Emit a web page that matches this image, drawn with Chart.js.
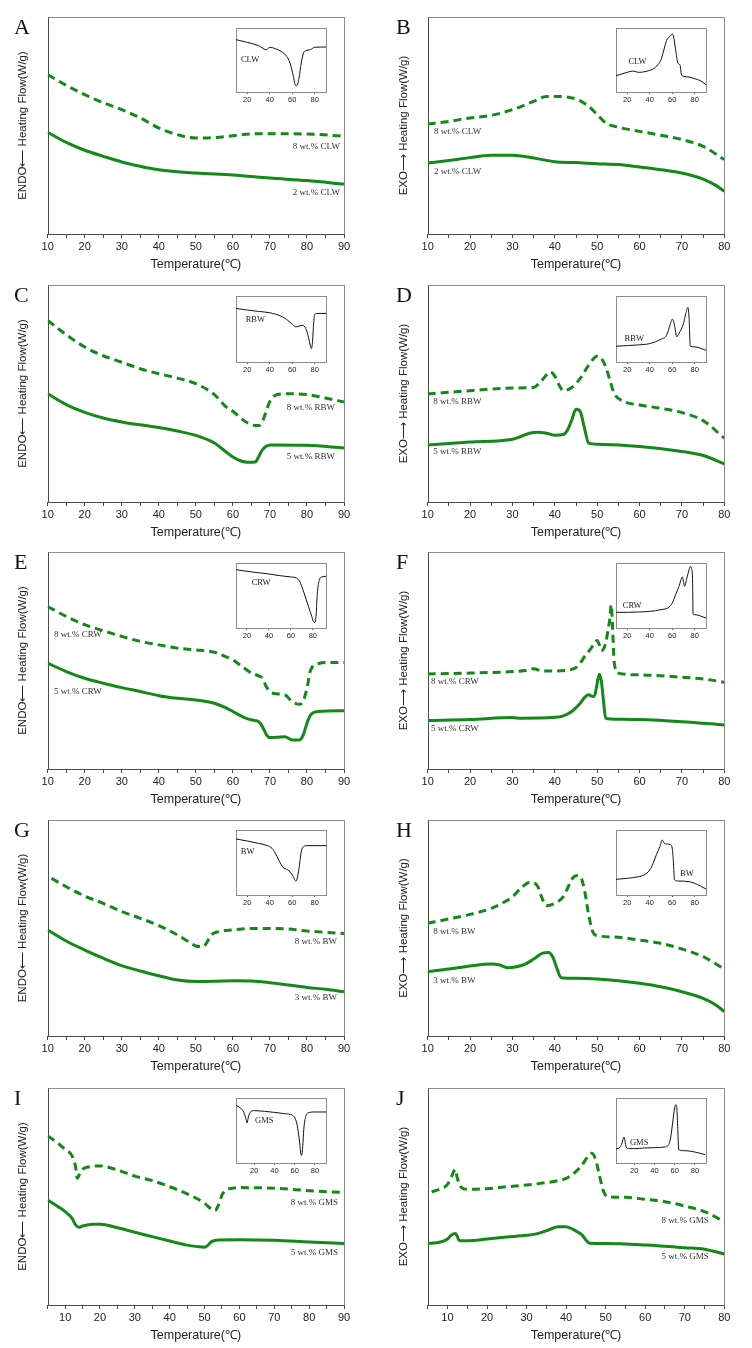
<!DOCTYPE html>
<html>
<head>
<meta charset="utf-8">
<script src="https://cdn.jsdelivr.net/npm/chart.js@4.4.0/dist/chart.umd.min.js"></script>
<style>
  body { margin: 0; background: #fff; }
  #fig { position: relative; width: 752px; height: 1348px; overflow: hidden; }
  #fig canvas { position: absolute; }
</style>
</head>
<body>
<div id="fig"></div>
<script>
// ---- x ticks ----
const TICKS_10_90 = [10, 15, 20, 25, 30, 35, 40, 45, 50, 55, 60, 65, 70, 75, 80, 85, 90];
const TICKS_10_80 = [10, 15, 20, 25, 30, 35, 40, 45, 50, 55, 60, 65, 70, 75, 80];
const TICKS_5_90 = [5, 10, 15, 20, 25, 30, 35, 40, 45, 50, 55, 60, 65, 70, 75, 80, 85, 90];
const TICKS_5_80 = [5, 10, 15, 20, 25, 30, 35, 40, 45, 50, 55, 60, 65, 70, 75, 80];
const INSET_TICKS = [20, 40, 60, 80];

// ---- A: CLW heating (endo) ----
const A_T8 = [10, 15, 20, 25, 30, 35, 40, 45, 50, 55, 60, 65, 70, 80, 90];
const A_H8 = [73.4, 68.5, 64.2, 60.5, 57.3, 53.5, 48.8, 45.8, 44.2, 44.4, 45.3, 46.1, 46.2, 46.1, 45.0];
const A_T2 = [10, 15, 20, 25, 30, 35, 40, 50, 60, 70, 80, 90];
const A_H2 = [46.9, 42.2, 38.6, 35.8, 33.2, 31.2, 29.6, 28.1, 27.2, 25.8, 24.6, 23.0];
const A_TI = [10, 20, 30, 37, 40, 45, 50, 55, 58, 61, 63, 64, 66, 68, 70, 72, 76, 80, 90];
const A_HI = [81.8, 77.6, 72.4, 66.1, 69.8, 67.7, 63.5, 55.7, 45.3, 24.5, 9.9, 9.9, 21.9, 45.3, 60.9, 64.6, 66.1, 69.8, 70.3];

// ---- B: CLW cooling (exo) ----
const B_T8 = [10, 15, 20, 25, 30, 35, 38, 40, 45, 48, 50, 52, 55, 60, 65, 70, 75, 80];
const B_H8 = [50.7, 51.9, 53.5, 54.7, 57.3, 61.1, 63.4, 63.4, 62.2, 58.8, 55.0, 51.2, 49.2, 47.3, 45.5, 43.5, 40.4, 34.3];
const B_T2 = [10, 15, 20, 25, 30, 35, 40, 45, 50, 55, 60, 65, 70, 75, 78, 80];
const B_H2 = [32.7, 33.9, 35.2, 36.3, 36.3, 35.0, 33.3, 32.9, 32.4, 32.0, 30.9, 29.6, 28.1, 25.3, 22.4, 19.7];
const B_TI = [10, 20, 25, 30, 40, 45, 50, 53, 55, 58, 60, 61, 63, 65, 67, 68, 70, 75, 80, 85, 90];
const B_HI = [25.5, 30.7, 32.8, 30.7, 33.9, 38.5, 50.5, 68.8, 80.7, 87.0, 90.6, 88.0, 66.1, 45.3, 41.7, 28.6, 24.5, 23.4, 20.8, 17.7, 11.5];

// ---- C: RBW heating ----
const C_T8 = [10, 15, 20, 25, 30, 35, 40, 45, 50, 55, 58, 60, 63, 65, 67, 68, 69, 70, 72, 75, 80, 85, 90];
const C_H8 = [83.7, 77.1, 71.4, 67.4, 64.4, 61.4, 59.1, 57.1, 54.5, 49.5, 44.1, 41.8, 37.5, 35.6, 35.2, 37.2, 41.8, 46.4, 49.5, 49.9, 49.5, 47.9, 46.1];
const C_T5 = [10, 15, 20, 25, 30, 40, 45, 50, 55, 58, 60, 62, 64, 66, 67, 68, 69, 70, 80, 90];
const C_H5 = [49.9, 44.9, 41.3, 38.7, 36.9, 34.3, 32.7, 30.7, 27.2, 23.3, 20.7, 19.0, 18.3, 18.4, 21.0, 24.1, 25.7, 26.3, 26.1, 24.9];
const C_TI = [10, 20, 30, 40, 50, 55, 60, 63, 66, 69, 72, 74, 76, 77, 78, 79, 80, 82, 90];
const C_HI = [81.2, 78.7, 76.6, 74.6, 69.5, 64.5, 57.4, 53.3, 54.3, 55.8, 50.8, 40.6, 25.4, 20.3, 30.5, 58.4, 72.1, 73.6, 73.6];

// ---- D: RBW cooling ----
const D_T8 = [10, 20, 30, 35, 37, 39, 40, 41, 42, 44, 46, 48, 50, 51, 52, 53, 54, 56, 60, 65, 70, 75, 80];
const D_H8 = [49.8, 51.3, 52.5, 52.8, 56.2, 59.9, 58.0, 53.9, 51.3, 52.8, 57.0, 63.1, 67.2, 66.2, 62.3, 56.2, 50.1, 46.6, 44.7, 43.2, 41.2, 37.5, 29.4];
const D_T5 = [10, 20, 30, 32, 34, 36, 38, 40, 42, 43, 44, 45, 46, 47, 48, 50, 60, 70, 75, 80];
const D_H5 = [26.3, 27.6, 28.9, 30.2, 31.7, 32.2, 31.7, 30.8, 31.1, 33.2, 37.8, 42.7, 41.7, 34.0, 27.1, 26.6, 25.6, 23.3, 21.4, 17.6];
const D_TI = [10, 20, 30, 40, 50, 55, 58, 60, 62, 64, 66, 70, 72, 74, 75, 76, 80, 90];
const D_HI = [23.9, 24.9, 25.9, 27.9, 34.5, 40.6, 55.8, 65.0, 55.8, 38.1, 43.1, 58.4, 73.6, 82.7, 64.5, 23.9, 22.8, 17.8];

// ---- E: CRW heating ----
const E_T8 = [10, 15, 20, 25, 30, 35, 40, 45, 50, 55, 58, 60, 63, 65, 67, 68, 69, 70, 72, 74, 76, 78, 79, 80, 81, 83, 85, 90];
const E_H8 = [74.9, 70.3, 66.5, 63.7, 61.1, 58.8, 57.2, 55.7, 54.9, 53.8, 51.8, 50.3, 46.5, 44.2, 42.9, 41.8, 38.0, 35.7, 34.6, 34.2, 31.1, 29.8, 31.4, 37.2, 45.7, 48.5, 49.1, 49.1];
const E_T5 = [10, 15, 20, 25, 30, 35, 40, 45, 50, 55, 58, 60, 62, 64, 66, 67, 68, 69, 70, 72, 74, 76, 78, 79, 80, 81, 83, 90];
const E_H5 = [48.8, 44.9, 41.8, 39.5, 37.5, 35.7, 33.8, 32.6, 31.8, 30.3, 28.3, 26.5, 24.6, 23.1, 22.3, 21.8, 19.5, 16.0, 14.5, 14.6, 14.9, 13.4, 13.4, 15.7, 21.1, 24.9, 26.5, 26.8];
const E_TI = [10, 20, 30, 40, 50, 60, 65, 68, 72, 76, 79, 81, 82, 83, 84, 86, 88, 92];
const E_HI = [89.7, 87.2, 85.1, 83.1, 80.5, 78.5, 76.9, 71.8, 53.8, 33.3, 17.9, 8.7, 8.7, 20.5, 51.3, 74.4, 78.5, 79.5];

// ---- F: CRW cooling ----
const F_T8 = [10, 20, 30, 33, 35, 37, 40, 43, 45, 46, 47, 48, 49, 50, 50.5, 51, 52, 52.5, 53, 53.3, 53.6, 54, 55, 60, 70, 75, 80];
const F_H8 = [43.8, 44.2, 44.9, 45.4, 46.2, 45.2, 45.2, 45.5, 46.8, 48.8, 51.8, 54.2, 56.9, 59.2, 57.2, 54.5, 58.0, 63.4, 69.5, 75.7, 66.5, 49.5, 44.2, 43.4, 42.3, 41.5, 40.0];
const F_T5 = [10, 20, 30, 32, 40, 42, 44, 46, 47, 48, 49, 49.5, 50, 50.5, 51, 51.5, 52, 55, 60, 70, 80];
const F_H5 = [22.3, 22.8, 23.7, 23.4, 23.8, 24.5, 26.5, 30.3, 32.9, 34.2, 33.4, 34.5, 39.5, 43.7, 40.3, 31.1, 23.4, 22.9, 22.8, 21.8, 20.3];
const F_TI = [10, 20, 30, 40, 50, 57, 60, 63, 66, 69, 70, 71, 73, 75, 76, 77, 78, 78.5, 80, 90];
const F_HI = [24.1, 24.1, 24.6, 25.6, 28.2, 31.8, 38.5, 51.3, 64.1, 78.5, 71.8, 64.1, 76.9, 89.7, 94.9, 92.3, 76.9, 21.5, 20.5, 15.4];

// ---- G: BW heating ----
const G_T8 = [11, 15, 20, 25, 30, 35, 40, 45, 48, 50, 52, 53, 54, 56, 60, 65, 70, 75, 80, 85, 90];
const G_H8 = [73.0, 69.1, 64.8, 61.4, 57.6, 54.5, 51.1, 46.8, 43.7, 41.7, 41.4, 43.4, 46.5, 48.3, 49.1, 49.8, 49.8, 49.5, 48.6, 48.0, 47.5];
const G_T3 = [10, 15, 20, 25, 30, 35, 40, 45, 50, 55, 60, 65, 70, 75, 80, 85, 90];
const G_H3 = [49.1, 44.0, 39.8, 36.0, 32.6, 30.1, 27.9, 25.9, 25.2, 25.3, 25.6, 25.5, 24.7, 23.6, 22.5, 21.6, 20.5];
const G_TI = [10, 20, 30, 38, 42, 45, 48, 52, 55, 58, 61, 63, 64, 66, 68, 70, 73, 90];
const G_HI = [86.2, 83.1, 79.5, 75.9, 71.8, 64.1, 53.8, 42.1, 39.5, 35.9, 28.2, 21.5, 23.1, 41.0, 66.7, 74.4, 75.9, 75.9];

// ---- H: BW cooling ----
const H_T8 = [10, 15, 20, 25, 28, 30, 32, 34, 35, 36, 37, 38, 40, 42, 43, 44, 45, 46, 47, 48, 49, 50, 55, 60, 65, 70, 75, 80];
const H_H8 = [52.2, 54.2, 56.3, 59.1, 61.9, 64.5, 68.4, 71.1, 71.0, 69.1, 63.7, 60.3, 61.4, 64.5, 68.4, 72.5, 74.2, 73.8, 67.6, 56.0, 48.0, 46.5, 45.7, 44.4, 42.9, 40.3, 36.7, 31.0];
const H_T3 = [10, 15, 20, 25, 27, 29, 31, 33, 35, 37, 38.5, 39.5, 40.5, 41.5, 45, 50, 55, 60, 65, 70, 75, 78, 80];
const H_H3 = [29.8, 31.0, 32.4, 33.3, 32.9, 31.6, 32.1, 33.3, 35.6, 38.3, 38.7, 36.7, 31.3, 27.0, 26.7, 26.4, 25.6, 24.4, 22.8, 20.5, 17.4, 14.4, 11.3];
const H_TI = [10, 20, 30, 35, 40, 43, 46, 49, 51, 53, 55, 58, 60, 61, 62, 65, 75, 80, 85, 90];
const H_HI = [24.1, 25.6, 28.2, 30.8, 38.5, 48.7, 62.6, 74.4, 84.6, 79.5, 78.5, 77.9, 71.8, 51.3, 23.1, 21.5, 20.5, 17.9, 13.8, 9.2];

// ---- I: GMS heating ----
const I_T8 = [5, 8, 10, 12, 13, 13.5, 14, 15, 17, 20, 25, 30, 35, 40, 45, 50, 52, 53, 54, 55, 56, 58, 60, 70, 80, 90];
const I_H8 = [77.9, 74.5, 71.7, 68.7, 63.7, 58.4, 59.9, 62.5, 63.7, 64.1, 62.2, 59.4, 57.3, 54.5, 51.2, 46.9, 44.1, 43.5, 46.1, 50.7, 53.0, 53.8, 54.1, 53.8, 52.7, 51.8];
const I_T5 = [5, 8, 10, 12, 13, 14, 15, 18, 20, 25, 30, 35, 40, 45, 48, 50, 51, 52, 54, 60, 70, 80, 90];
const I_H5 = [48.4, 45.3, 43.0, 39.9, 36.9, 35.8, 36.4, 37.2, 37.2, 35.6, 33.5, 31.5, 29.5, 27.6, 26.9, 26.6, 27.6, 29.2, 30.0, 30.1, 29.8, 29.0, 28.3];
const I_TI = [2, 5, 8, 10, 12, 13, 14, 16, 20, 30, 40, 50, 58, 61, 63, 65, 66, 67, 68, 69, 71, 73, 80, 91];
const I_HI = [88.7, 86.2, 82.1, 76.9, 66.7, 61.5, 69.2, 77.9, 80.5, 79.5, 77.9, 75.9, 73.3, 66.7, 53.8, 30.8, 15.4, 11.8, 25.6, 51.3, 71.8, 76.9, 78.5, 78.5];

// ---- J: GMS cooling ----
const J_T8 = [6, 8, 10, 11, 12, 12.5, 13.5, 15, 20, 25, 30, 35, 38, 40, 42, 44, 45.5, 46.5, 47.5, 48.5, 49.5, 50.5, 55, 60, 65, 70, 75, 80];
const J_H8 = [52.2, 53.3, 55.6, 59.1, 62.5, 58.4, 54.2, 53.3, 53.6, 54.5, 55.3, 56.4, 57.3, 58.4, 60.7, 64.5, 68.4, 69.9, 66.8, 59.1, 52.2, 49.9, 49.6, 48.7, 47.6, 45.6, 43.0, 38.4];
const J_T5 = [5, 8, 10, 11, 12, 12.5, 13, 15, 20, 25, 30, 33, 36, 38, 40, 42, 44, 45, 46, 50, 60, 70, 75, 80];
const J_H5 = [28.4, 28.9, 30.4, 32.3, 33.0, 31.5, 29.6, 29.6, 30.4, 31.3, 32.1, 33.0, 34.9, 36.1, 36.1, 34.6, 32.3, 30.0, 28.4, 28.3, 27.6, 26.4, 25.7, 23.5];
const J_TI = [2, 6, 8, 9, 10, 11, 12, 15, 20, 30, 40, 50, 54, 56, 58, 60, 61, 62, 63, 64, 70, 80, 90];
const J_HI = [21.5, 24.6, 30.8, 36.9, 40.0, 33.3, 24.6, 22.1, 22.1, 23.1, 23.6, 24.6, 28.2, 38.5, 61.5, 84.6, 89.7, 87.2, 56.4, 20.5, 19.0, 16.9, 12.8];

const ENDO_TITLE = "ENDO\u27F5 Heating Flow(W/g)";
const EXO_TITLE = "EXO\u27F6 Heating Flow(W/g)";

// ---- layout (pixels) ----
const GREEN = "#138a18";
const SANS = '"Liberation Sans", Arial, sans-serif';
const SERIF = '"Liberation Serif", "Times New Roman", serif';
const ROWS = [[17, 234], [285, 502], [552, 769], [820, 1036], [1088, 1305]];
const COLS = [
  { x0: 0, left: 47.7, right: 344, titleX: 23.3, letterX: 14 },
  { x0: 376, left: 51.7, right: 348.3, titleX: 28, letterX: 20 },
];
const INSET_X = [[236, 326], [616, 706]];
const INSET_Y = [[28, 92], [296, 362], [563, 628], [830, 895], [1098, 1163]];

const panels = [
  { letter: "A", row: 0, col: 0, xMin: 10, xMax: 90, ticks: TICKS_10_90, yTitle: ENDO_TITLE,
    series: [[A_T8, A_H8, true], [A_T2, A_H2, false]],
    labels: [["8 wt.% CLW", 88.9, 40.1, "right"], ["2 wt.% CLW", 88.9, 18.9, "right"]],
    inset: { t: A_TI, h: A_HI, min: 10, max: 90, label: ["CLW", 14.4, 50] } },
  { letter: "B", row: 0, col: 1, xMin: 10, xMax: 80, ticks: TICKS_10_80, yTitle: EXO_TITLE,
    series: [[B_T8, B_H8, true], [B_T2, B_H2, false]],
    labels: [["8 wt.% CLW", 11.5, 47.0, "left"], ["2 wt.% CLW", 11.5, 28.6, "left"]],
    inset: { t: B_TI, h: B_HI, min: 10, max: 90, label: ["CLW", 21, 46.9] } },
  { letter: "C", row: 1, col: 0, xMin: 10, xMax: 90, ticks: TICKS_10_90, yTitle: ENDO_TITLE,
    series: [[C_T8, C_H8, true], [C_T5, C_H5, false]],
    labels: [["8 wt.% RBW", 87.6, 43.3, "right"], ["5 wt.% RBW", 87.6, 20.7, "right"]],
    inset: { t: C_TI, h: C_HI, min: 10, max: 90, label: ["RBW", 18.6, 63.6] } },
  { letter: "D", row: 1, col: 1, xMin: 10, xMax: 80, ticks: TICKS_10_80, yTitle: EXO_TITLE,
    series: [[D_T8, D_H8, true], [D_T5, D_H5, false]],
    labels: [["8 wt.% RBW", 11.3, 46.1, "left"], ["5 wt.% RBW", 11.3, 23.0, "left"]],
    inset: { t: D_TI, h: D_HI, min: 10, max: 90, label: ["RBW", 17.6, 34.8] } },
  { letter: "E", row: 2, col: 0, xMin: 10, xMax: 90, ticks: TICKS_10_90, yTitle: ENDO_TITLE,
    series: [[E_T8, E_H8, true], [E_T5, E_H5, false]],
    labels: [["8 wt.% CRW", 11.7, 61.8, "left"], ["5 wt.% CRW", 11.7, 35.5, "left"]],
    inset: { t: E_TI, h: E_HI, min: 10, max: 92, label: ["CRW", 24.3, 69.2] } },
  { letter: "F", row: 2, col: 1, xMin: 10, xMax: 80, ticks: TICKS_10_80, yTitle: EXO_TITLE,
    series: [[F_T8, F_H8, true], [F_T5, F_H5, false]],
    labels: [["8 wt.% CRW", 10.8, 40.1, "left"], ["5 wt.% CRW", 10.8, 18.4, "left"]],
    inset: { t: F_TI, h: F_HI, min: 10, max: 90, label: ["CRW", 16, 33.8] } },
  { letter: "G", row: 3, col: 0, xMin: 10, xMax: 90, ticks: TICKS_10_90, yTitle: ENDO_TITLE,
    series: [[G_T8, G_H8, true], [G_T3, G_H3, false]],
    labels: [["8 wt.% BW", 88.1, 43.5, "right"], ["3 wt.% BW", 88.1, 17.6, "right"]],
    inset: { t: G_TI, h: G_HI, min: 10, max: 90, label: ["BW", 14.2, 66.2] } },
  { letter: "H", row: 3, col: 1, xMin: 10, xMax: 80, ticks: TICKS_10_80, yTitle: EXO_TITLE,
    series: [[H_T8, H_H8, true], [H_T3, H_H3, false]],
    labels: [["8 wt.% BW", 11.3, 48.1, "left"], ["3 wt.% BW", 11.3, 25.5, "left"]],
    inset: { t: H_TI, h: H_HI, min: 10, max: 90, label: ["BW", 66.9, 32.3] } },
  { letter: "I", row: 4, col: 0, xMin: 5, xMax: 90, ticks: TICKS_5_90, yTitle: ENDO_TITLE,
    series: [[I_T8, I_H8, true], [I_T5, I_H5, false]],
    labels: [["8 wt.% GMS", 88.3, 47.0, "right"], ["5 wt.% GMS", 88.3, 24.0, "right"]],
    inset: { t: I_TI, h: I_HI, min: 2, max: 91, label: ["GMS", 20.8, 64.6] } },
  { letter: "J", row: 4, col: 1, xMin: 5, xMax: 80, ticks: TICKS_5_80, yTitle: EXO_TITLE,
    series: [[J_T8, J_H8, true], [J_T5, J_H5, false]],
    labels: [["8 wt.% GMS", 76.1, 38.7, "right"], ["5 wt.% GMS", 76.1, 22.1, "right"]],
    inset: { t: J_TI, h: J_HI, min: 2, max: 91, label: ["GMS", 15.8, 30.8] } },
];

Chart.defaults.font.family = SANS;
Chart.defaults.color = "#222";

const framePlugin = {
  id: "frame",
  beforeDatasetsDraw(chart, args, opts) {
    const a = chart.chartArea;
    const ctx = chart.ctx;
    const l = Math.round(a.left) + 0.5, t = Math.round(a.top) + 0.5;
    const r = Math.round(a.right) + 0.5, b = Math.round(a.bottom) + 0.5;
    ctx.save();
    ctx.lineWidth = 1;
    ctx.strokeStyle = opts.color;
    ctx.strokeRect(l, t, r - l, b - t);
    if (opts.axisColor) {
      ctx.strokeStyle = opts.axisColor;
      ctx.beginPath();
      ctx.moveTo(l, t);
      ctx.lineTo(l, b);
      ctx.lineTo(r, b);
      ctx.stroke();
    }
    ctx.restore();
  },
};

const textPlugin = {
  id: "texts",
  afterDatasetsDraw(chart, args, opts) {
    const ctx = chart.ctx;
    const x = chart.scales.x, y = chart.scales.y;
    ctx.save();
    ctx.font = opts.font;
    ctx.fillStyle = opts.color;
    ctx.textBaseline = "middle";
    (opts.items || []).forEach(function (it) {
      ctx.textAlign = it[3] || "left";
      ctx.fillText(it[0], x.getPixelForValue(it[1]), y.getPixelForValue(it[2]));
    });
    if (opts.letter) {
      ctx.font = "22px " + SERIF;
      ctx.fillStyle = "#111";
      ctx.textAlign = "left";
      ctx.textBaseline = "alphabetic";
      ctx.fillText(opts.letter, opts.letterX, chart.chartArea.top + 17);
    }
    ctx.restore();
  },
};

const fig = document.getElementById("fig");

function addCanvas(left, top, w, h) {
  const cv = document.createElement("canvas");
  cv.width = w;
  cv.height = h;
  cv.style.left = left + "px";
  cv.style.top = top + "px";
  cv.style.width = w + "px";
  cv.style.height = h + "px";
  fig.appendChild(cv);
  return cv;
}

function toPoints(t, h) {
  return t.map(function (v, i) { return { x: v, y: h[i] }; });
}

function buildMain(p) {
  const col = COLS[p.col], row = ROWS[p.row];
  const padTop = 14, plotH = row[1] - row[0], xH = 38;
  const w = 376, h = padTop + plotH + 44;
  const cv = addCanvas(col.x0, row[0] - padTop, w, h);
  const padL = col.titleX - 7;

  new Chart(cv, {
    type: "line",
    data: {
      datasets: p.series.map(function (s) {
        return {
          data: toPoints(s[0], s[1]),
          borderColor: GREEN,
          borderWidth: 3,
          borderDash: s[2] ? [8, 5] : [],
          pointRadius: 0,
          cubicInterpolationMode: "monotone",
          fill: false,
        };
      }),
    },
    options: {
      responsive: false,
      animation: false,
      devicePixelRatio: 1,
      layout: { padding: { top: padTop, left: padL, right: w - col.right, bottom: h - padTop - plotH - xH } },
      plugins: {
        legend: { display: false },
        tooltip: { enabled: false },
        frame: { color: "#8c8c8c", axisColor: "#4a4a4a" },
        texts: {
          items: p.labels,
          font: "9px " + SERIF,
          color: "#333",
          letter: p.letter,
          letterX: col.letterX,
        },
      },
      scales: {
        x: {
          type: "linear",
          min: p.xMin,
          max: p.xMax,
          afterBuildTicks: function (s) { s.ticks = p.ticks.map(function (v) { return { value: v }; }); },
          afterFit: function (s) { s.height = xH; },
          ticks: {
            autoSkip: false,
            maxRotation: 0,
            padding: 2,
            font: { family: SANS, size: 11 },
            color: "#222",
            callback: function (v) { return v % 10 === 0 ? String(v) : ""; },
          },
          grid: { display: true, drawOnChartArea: false, drawTicks: true, tickLength: 4, tickColor: "#444" },
          border: { display: false },
          title: { display: true, text: "Temperature(\u2103)", font: { family: SANS, size: 12.5 }, color: "#222", padding: 0 },
        },
        y: {
          min: 0,
          max: 100,
          afterFit: function (s) { s.width = col.left - padL; },
          ticks: { display: false },
          grid: { display: false },
          border: { display: false },
          title: { display: true, text: p.yTitle, font: { family: SANS, size: 11.5 }, color: "#222", padding: 0 },
        },
      },
    },
    plugins: [framePlugin, textPlugin],
  });
}

function buildInset(p) {
  const ins = p.inset;
  const xs = INSET_X[p.col], ys = INSET_Y[p.row];
  const padX = 8, padTop = 2, axisH = 13;
  const w = xs[1] - xs[0] + 2 * padX;
  const h = ys[1] - ys[0] + padTop + axisH + 2;
  const cv = addCanvas(xs[0] - padX, ys[0] - padTop, w, h);

  new Chart(cv, {
    type: "line",
    data: {
      datasets: [{
        data: toPoints(ins.t, ins.h),
        borderColor: "#111",
        borderWidth: 1,
        pointRadius: 0,
        cubicInterpolationMode: "monotone",
        fill: false,
      }],
    },
    options: {
      responsive: false,
      animation: false,
      devicePixelRatio: 1,
      layout: { padding: { top: padTop, left: padX, right: padX, bottom: 2 } },
      plugins: {
        legend: { display: false },
        tooltip: { enabled: false },
        frame: { color: "#8c8c8c" },
        texts: { items: [[ins.label[0], ins.label[1], ins.label[2], "left"]], font: "8.5px " + SERIF, color: "#222" },
      },
      scales: {
        x: {
          type: "linear",
          min: ins.min,
          max: ins.max,
          afterBuildTicks: function (s) { s.ticks = INSET_TICKS.map(function (v) { return { value: v }; }); },
          afterFit: function (s) { s.height = axisH; },
          ticks: { autoSkip: false, maxRotation: 0, padding: 1, font: { family: SANS, size: 7.5 }, color: "#222" },
          grid: { display: true, drawOnChartArea: false, drawTicks: true, tickLength: 2, tickColor: "#555" },
          border: { display: false },
        },
        y: { display: false, min: 0, max: 100 },
      },
    },
    plugins: [framePlugin, textPlugin],
  });
}

panels.forEach(function (p) {
  buildMain(p);
  buildInset(p);
});
</script>
</body>
</html>
